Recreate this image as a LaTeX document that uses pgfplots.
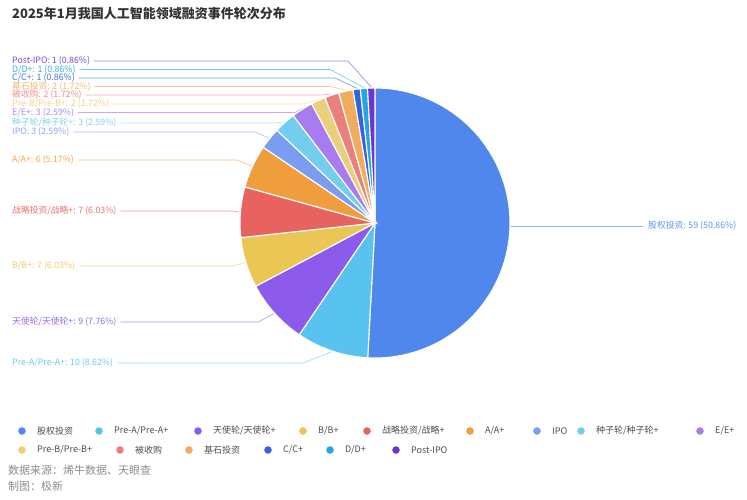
\documentclass[border=0pt]{standalone}
\usepackage{pgfplots}
\pgfplotsset{compat=1.18}
\usepackage{fontspec}
\setmainfont{Noto Sans CJK SC}
\definecolor{c1}{HTML}{5087EC}
\definecolor{c2}{HTML}{58C3EF}
\definecolor{c3}{HTML}{8C5BEB}
\definecolor{c4}{HTML}{ECC654}
\definecolor{c5}{HTML}{E8625F}
\definecolor{c6}{HTML}{F09D3E}
\definecolor{c7}{HTML}{7A9DF0}
\definecolor{c8}{HTML}{72CDEE}
\definecolor{c9}{HTML}{A97BF0}
\definecolor{c10}{HTML}{EBCF7A}
\definecolor{c11}{HTML}{EB7F7C}
\definecolor{c12}{HTML}{F0AD5E}
\definecolor{c13}{HTML}{3462E0}
\definecolor{c14}{HTML}{22A8DE}
\definecolor{c15}{HTML}{6A35D6}
\newcounter{sl}
\def\cx{375}\def\cy{223}\def\R{135}\def\total{116}\gdef\cum{-90}
\newcommand\lab{\fontsize{8.8}{10}\selectfont}
\newcommand\leg{\fontsize{9}{11}\selectfont}
% slice with left label: value, color, label, label y, elbow x
\newcommand\pieslice[5]{%
  \pgfmathsetmacro\tA{\cum}%
  \pgfmathsetmacro\tB{\cum+#1/\total*360}%
  \pgfmathsetmacro\tM{(\tA+\tB)/2}%
  \pgfmathsetmacro\ex{\cx+(\R+1)*cos(\tM)}%
  \pgfmathsetmacro\ey{\cy+(\R+1)*sin(\tM)}%
  \xdef\cum{\tB}%
  \stepcounter{sl}%
  \edef\temp{%
    \noexpand\addplot[fill=#2, draw=white, line width=1.1pt, domain=\tA:\tB, samples=60] ({\cx+\R*cos(x)},{\cy+\R*sin(x)}) -- (\cx,\cy) -- cycle;%
    \noexpand\node[anchor=west, inner sep=0pt, text=#2!90!white, font=\noexpand\lab] (n\arabic{sl}) at (12,#4) {#3};%
    \noexpand\draw[#2!65, line width=0.6pt] ([xshift=4pt]n\arabic{sl}.east) -- (#5,#4) -- (\ex,\ey);%
  }\temp
}
% slice with right label: value, color, label, label y
\newcommand\piesliceR[4]{%
  \pgfmathsetmacro\tA{\cum}%
  \pgfmathsetmacro\tB{\cum+#1/\total*360}%
  \pgfmathsetmacro\tM{(\tA+\tB)/2}%
  \pgfmathsetmacro\ex{\cx+(\R+1)*cos(\tM)}%
  \xdef\cum{\tB}%
  \edef\temp{%
    \noexpand\addplot[fill=#2, draw=white, line width=1.1pt, domain=\tA:\tB, samples=120] ({\cx+\R*cos(x)},{\cy+\R*sin(x)}) -- (\cx,\cy) -- cycle;%
    \noexpand\draw[#2!65, line width=0.6pt] (\ex,#4) -- (643,#4);%
    \noexpand\node[anchor=west, inner sep=0pt, text=#2!90!white, font=\noexpand\lab] at (648,#4) {#3};%
  }\temp
}
\newcommand\legitem[4]{% x, y, color, text
  \addplot[only marks, mark=*, mark size=3.5pt, color=#3] coordinates {(#1,#2)};
  \node[anchor=west, inner sep=0pt, text=black!70, font=\leg] at (#1+15,#2) {#4};
}
\begin{document}
\begin{tikzpicture}
\begin{axis}[width=747pt, height=500pt, scale only axis,
  xmin=0, xmax=747, ymin=0, ymax=500, y dir=reverse,
  hide axis, clip=false]
\path (0,0) rectangle (747,500);
\piesliceR{59}{c1}{股权投资: 59 (50.86\%)}{226}
\pieslice{10}{c2}{Pre-A/Pre-A+: 10 (8.62\%)}{363}{303}
\pieslice{9}{c3}{天使轮/天使轮+: 9 (7.76\%)}{322}{258}
\pieslice{7}{c4}{B/B+: 7 (6.03\%)}{266}{233}
\pieslice{7}{c5}{战略投资/战略+: 7 (6.03\%)}{211}{232}
\pieslice{6}{c6}{A/A+: 6 (5.17\%)}{160}{237}
\pieslice{3}{c7}{IPO: 3 (2.59\%)}{132}{255}
\pieslice{3}{c8}{种子轮/种子轮+: 3 (2.59\%)}{123}{275}
\pieslice{3}{c9}{E/E+: 3 (2.59\%)}{112.5}{295}
\pieslice{2}{c10}{Pre-B/Pre-B+: 2 (1.72\%)}{104}{305}
\pieslice{2}{c11}{被收购: 2 (1.72\%)}{95}{320}
\pieslice{2}{c12}{基石投资: 2 (1.72\%)}{86.5}{330}
\pieslice{1}{c13}{C/C+: 1 (0.86\%)}{78}{335}
\pieslice{1}{c14}{D/D+: 1 (0.86\%)}{69.5}{330}
\pieslice{1}{c15}{Post-IPO: 1 (0.86\%)}{61}{348}
% title
\node[anchor=west, inner sep=0pt, text=black!80, font=\fontsize{13}{15}\selectfont\bfseries] at (12,14) {2025年1月我国人工智能领域融资事件轮次分布};
% legend
\legitem{22}{431}{c1}{股权投资}
\legitem{99}{431}{c2}{Pre-A/Pre-A+}
\legitem{198}{431}{c3}{天使轮/天使轮+}
\legitem{303}{431}{c4}{B/B+}
\legitem{367}{431}{c5}{战略投资/战略+}
\legitem{470}{431}{c6}{A/A+}
\legitem{537}{431}{c7}{IPO}
\legitem{581}{431}{c8}{种子轮/种子轮+}
\legitem{700}{431}{c9}{E/E+}
\legitem{22}{450}{c10}{Pre-B/Pre-B+}
\legitem{120}{450}{c11}{被收购}
\legitem{189}{450}{c12}{基石投资}
\legitem{268}{450}{c13}{C/C+}
\legitem{330}{450}{c14}{D/D+}
\legitem{396}{450}{c15}{Post-IPO}
% footer
\node[anchor=west, inner sep=0pt, text=black!45, font=\fontsize{11}{13}\selectfont] at (8,470) {数据来源：烯牛数据、天眼查};
\node[anchor=west, inner sep=0pt, text=black!45, font=\fontsize{11}{13}\selectfont] at (8,486) {制图：极新};
\end{axis}
\end{tikzpicture}
\end{document}
